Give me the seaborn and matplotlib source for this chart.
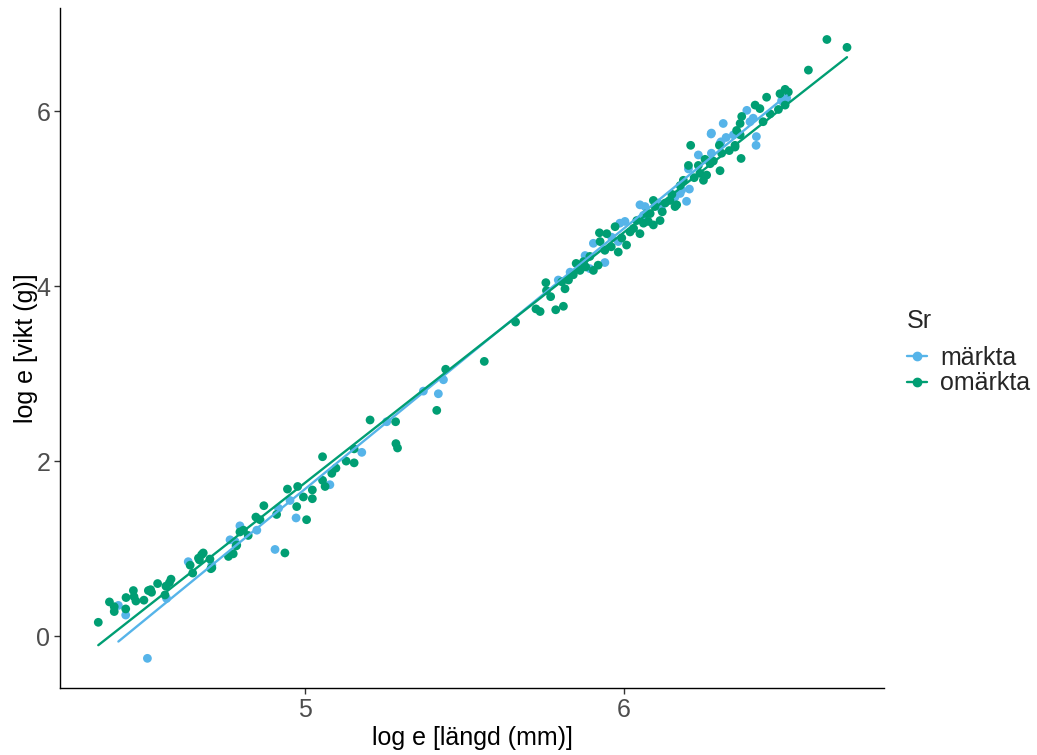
import matplotlib
matplotlib.use("Agg")
import matplotlib.pyplot as plt
from matplotlib.lines import Line2D
import seaborn as sns
import pandas as pd

# log e length (mm) / log e weight (g)
omarkta_x = [4.352, 4.387, 4.402, 4.402, 4.439, 4.438, 4.462, 4.464, 4.470, 4.495,
             4.509, 4.516, 4.519, 4.538, 4.564, 4.575, 4.580, 4.561, 4.640, 4.648,
             4.669, 4.702, 4.705, 4.760, 4.775, 4.786, 4.796, 4.822, 4.666, 4.676,
             4.681, 4.708, 4.784, 4.807, 4.846, 4.859, 4.871, 4.911, 4.945, 4.977,
             4.974, 4.995, 5.005, 5.023, 5.023, 4.937, 5.055, 5.055, 5.063, 5.084,
             5.097, 5.204, 5.284, 5.285, 5.290, 5.154, 5.129, 5.154, 5.413, 5.441,
             5.562, 5.660, 5.724, 5.737, 5.786, 5.810, 5.770, 5.755, 5.757, 5.805,
             5.815, 5.826, 5.841, 5.850, 5.862, 5.873, 5.893, 5.904, 5.919, 5.923,
             5.925, 5.940, 5.946, 5.972, 5.982, 5.993, 6.008, 6.019, 6.040, 6.050,
             6.061, 6.082, 6.092, 6.097, 6.113, 6.129, 6.160, 6.209, 6.202, 6.233,
             6.254, 6.238, 6.270, 6.259, 6.301, 6.299, 6.306, 6.348, 6.367, 6.364,
             6.186, 6.176, 6.165, 6.144, 6.092, 6.071, 6.076, 6.249, 6.578, 6.447,
             6.489, 6.505, 6.515, 6.411, 6.426, 6.484, 6.505, 6.369, 6.364, 6.353,
             6.436, 6.458, 6.348, 6.636, 6.699, 5.880, 5.960, 6.030, 6.120, 6.150,
             6.220, 6.280, 6.330]
omarkta_y = [0.157, 0.39, 0.335, 0.28, 0.44, 0.31, 0.52, 0.45, 0.40, 0.41,
             0.52, 0.53, 0.50, 0.60, 0.57, 0.61, 0.65, 0.47, 0.81, 0.72,
             0.87, 0.88, 0.77, 0.91, 0.94, 1.04, 1.19, 1.15, 0.89, 0.93,
             0.95, 0.78, 1.03, 1.21, 1.36, 1.33, 1.49, 1.39, 1.68, 1.71,
             1.48, 1.59, 1.33, 1.67, 1.57, 0.95, 2.05, 1.78, 1.71, 1.86,
             1.92, 2.47, 2.45, 2.20, 2.15, 1.98, 2.00, 2.14, 2.58, 3.05,
             3.14, 3.59, 3.74, 3.71, 3.73, 3.77, 3.88, 4.04, 3.95, 4.05,
             3.97, 4.07, 4.13, 4.26, 4.18, 4.28, 4.34, 4.18, 4.24, 4.61,
             4.51, 4.41, 4.60, 4.68, 4.39, 4.55, 4.47, 4.62, 4.75, 4.60,
             4.72, 4.83, 4.70, 4.91, 4.75, 4.95, 4.91, 5.61, 5.38, 5.38,
             5.45, 5.29, 5.40, 5.27, 5.32, 5.61, 5.52, 5.61, 5.46, 5.73,
             5.21, 5.15, 4.93, 4.98, 4.98, 4.83, 4.74, 5.21, 6.47, 6.16,
             6.20, 6.25, 6.22, 6.07, 6.03, 6.02, 6.07, 5.94, 5.86, 5.78,
             5.88, 5.97, 5.59, 6.82, 6.73, 4.22, 4.45, 4.66, 4.85, 5.05,
             5.24, 5.43, 5.55]

markta_x = [4.415, 4.438, 4.566, 4.634, 4.506, 4.708, 4.765, 4.796, 4.849, 4.781,
            4.917, 4.953, 4.972, 4.906, 5.078, 5.178, 5.256, 5.418, 5.434, 5.371,
            5.794, 5.831, 5.878, 5.893, 5.940, 5.904, 5.961, 5.987, 5.982, 6.003,
            6.050, 6.061, 6.118, 6.107, 6.273, 6.320, 6.304, 6.414, 6.233, 6.274,
            6.202, 6.176, 6.205, 6.196, 6.160, 6.181, 6.066, 6.385, 6.311, 6.274,
            6.405, 6.395, 6.343, 6.301, 6.510, 6.494, 6.415]
markta_y = [0.35, 0.24, 0.43, 0.85, -0.255, 0.81, 1.10, 1.26, 1.21, 1.08,
            1.46, 1.55, 1.35, 0.99, 1.73, 2.10, 2.45, 2.77, 2.93, 2.80,
            4.07, 4.16, 4.35, 4.20, 4.27, 4.49, 4.56, 4.72, 4.51, 4.74,
            4.93, 4.81, 4.87, 4.95, 5.74, 5.70, 5.65, 5.61, 5.50, 5.52,
            5.34, 5.06, 5.11, 4.97, 5.02, 5.10, 4.91, 6.01, 5.86, 5.75,
            5.92, 5.88, 5.73, 5.63, 6.15, 6.12, 5.71]

groups = ["märkta", "omärkta"]
colors = {"märkta": "#56B4E9", "omärkta": "#009E73"}

df = pd.concat([
    pd.DataFrame({"x": markta_x, "y": markta_y, "Sr": "märkta"}),
    pd.DataFrame({"x": omarkta_x, "y": omarkta_y, "Sr": "omärkta"}),
], ignore_index=True)

sns.set_style("white")
plt.rcParams['font.family'] = ['Liberation Sans', 'DejaVu Sans']

fig = plt.figure(figsize=(10.37, 7.55), dpi=100)
ax = fig.add_axes([60 / 1037, 1 - 688 / 755, 824 / 1037, 680 / 755])

sns.scatterplot(data=df, x="x", y="y", hue="Sr", hue_order=groups, palette=colors,
                s=40, linewidth=0, ax=ax, legend=False, zorder=2)
for g in groups:
    sub = df[df["Sr"] == g]
    sns.regplot(data=sub, x="x", y="y", scatter=False, ci=None, color=colors[g],
                line_kws={"linewidth": 1.7, "zorder": 3}, ax=ax)

ax.set_xlim(4.232, 6.815)
ax.set_ylim(-0.594, 7.18)
ax.set_xticks([5, 6])
ax.set_yticks([0, 2, 4, 6])
ax.set_xlabel("log e [längd (mm)]", fontsize=18, color="black", labelpad=3)
ax.set_ylabel("log e [vikt (g)]", fontsize=18, color="black", labelpad=-1)
ax.tick_params(axis="both", labelsize=18, labelcolor="#4D4D4D", color="#333333",
               length=4, width=1, direction="out", pad=3, bottom=True, left=True)
for side in ["top", "right"]:
    ax.spines[side].set_visible(False)
for side in ["left", "bottom"]:
    ax.spines[side].set_color("black")
    ax.spines[side].set_linewidth(1)

handles = [Line2D([0], [0], color=colors[g], marker="o", markersize=6,
                  linewidth=1.7) for g in groups]
leg = fig.legend(handles, groups, title="Sr", loc="upper left",
                 bbox_to_anchor=(884 / 1037, 1 - 287 / 755), frameon=False,
                 fontsize=18, title_fontsize=18, handlelength=0.8,
                 handletextpad=0.55, labelspacing=0.05)
leg._legend_box.align = "left"
leg._legend_box.sep = 9

fig.savefig("out.png", dpi=100)
